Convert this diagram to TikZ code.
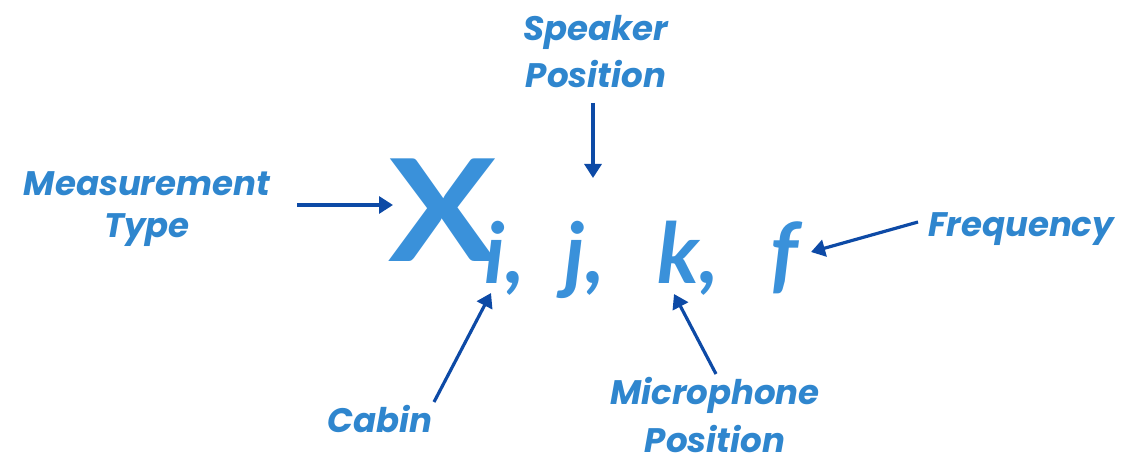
\documentclass[tikz,border=0pt]{standalone}
\usepackage{fontspec}
\setmainfont{Poppins}
\newfontfamily\symfont{Lato}
\usetikzlibrary{arrows.meta}
\definecolor{lblue}{HTML}{3A91DA}
\definecolor{tblue}{HTML}{2F86CE}
\definecolor{dblue}{HTML}{0D4AA6}
\tikzset{
  lbl/.style={text=tblue, font=\fontsize{34}{46}\selectfont\bfseries\itshape, align=center, inner sep=0pt, anchor=base},
  sym/.style={text=lblue, font=\fontsize{84}{84}\symfont\bfseries\itshape, inner sep=0pt, anchor=base},
  arr/.style={draw=dblue, line width=3.2pt, -{Triangle[length=14pt,width=17pt]}}
}
\begin{document}
\begin{tikzpicture}[x=1pt,y=1pt]
\useasboundingbox (0,0) rectangle (1123,458);
% main symbol
\node[text=lblue, font=\fontsize{142}{142}\symfont\bfseries, inner sep=0pt, anchor=base] (X) at (443,196) {\scalebox{1.14}[1]{X}};
\node[sym] (i) at (505,175) {\textit{i,}};
\node[sym] (j) at (585,175) {\textit{j,}};
\node[sym] (k) at (688,175) {\textit{k,}};
\node[sym] (f) at (784,175) {\textit{f}};
% labels (anchor = baseline of the last line)
\node[lbl, font=\fontsize{34}{42}\selectfont\bfseries\itshape] (mt) at (147,220) {Measurement\\Type};
\node[lbl, font=\fontsize{34}{47}\selectfont\bfseries\itshape] (sp) at (596,370) {Speaker\\Position};
\node[lbl] (fr) at (1021,221) {Frequency};
\node[lbl] (cb) at (380,26) {Cabin};
\node[lbl, font=\fontsize{34}{48}\selectfont\bfseries\itshape] (mp) at (715,6) {Microphone\\Position};
% arrow coordinates
\coordinate (mtS) at (297,253);
\coordinate (mtE) at (393,253);
\coordinate (spS) at (593,355);
\coordinate (spE) at (593,280);
\coordinate (frS) at (918,236);
\coordinate (frE) at (811,206);
\coordinate (cbS) at (434,56);
\coordinate (cbE) at (491,165);
\coordinate (mpS) at (716,84);
\coordinate (mpE) at (674,164);
\draw[arr] (mtS) -- (mtE);
\draw[arr] (spS) -- (spE);
\draw[arr] (frS) -- (frE);
\draw[arr] (cbS) -- (cbE);
\draw[arr] (mpS) -- (mpE);
\end{tikzpicture}
\end{document}
